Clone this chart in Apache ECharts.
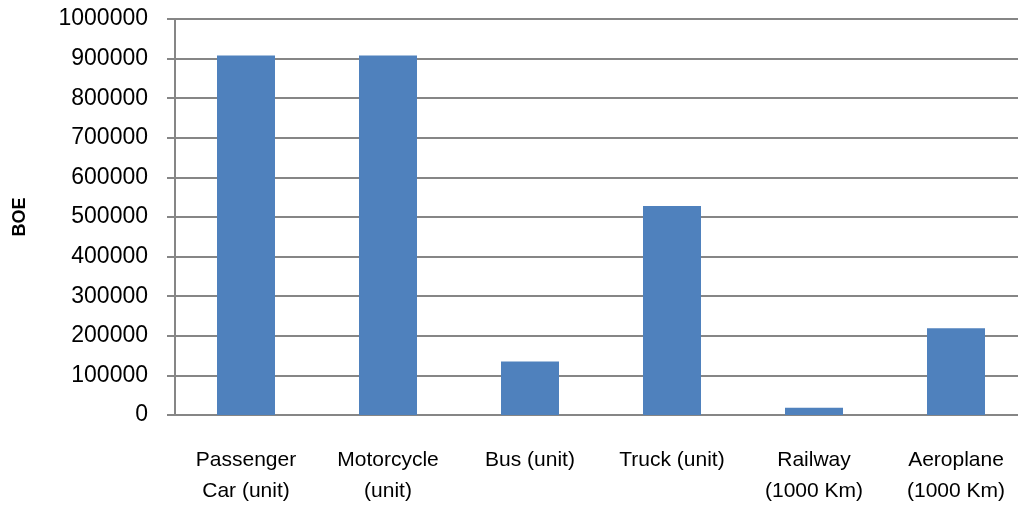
<!DOCTYPE html>
<html>
<head>
<meta charset="utf-8">
<script src="https://cdn.jsdelivr.net/npm/echarts@6/dist/echarts.min.js"></script>
<style>html,body{margin:0;padding:0;background:#fff}#c{width:1018px;height:506px}</style>
</head>
<body>
<div id="c"></div>
<script>
const categories = ['Passenger\nCar (unit)', 'Motorcycle\n(unit)', 'Bus (unit)', 'Truck (unit)', 'Railway\n(1000 Km)', 'Aeroplane\n(1000 Km)'];
const boeValues = [908000, 908000, 135000, 528000, 18000, 219000];
const yAxisName = 'BOE';

const chart = echarts.init(document.getElementById('c'));
chart.setOption({
  animation: false,
  grid: { left: 175, right: -9, top: 19, bottom: 91, containLabel: false, outerBoundsMode: 'none' },
  xAxis: {
    type: 'category',
    data: categories,
    axisLine: { lineStyle: { color: '#868686', width: 2 } },
    axisTick: { show: false },
    axisLabel: { color: '#000', fontFamily: 'Liberation Sans', fontSize: 21, lineHeight: 31, margin: 30, interval: 0 }
  },
  yAxis: {
    type: 'value',
    min: 0, max: 1000000, interval: 100000,
    name: yAxisName,
    nameLocation: 'middle',
    nameGap: 146,
    nameTextStyle: { color: '#000', fontFamily: 'Liberation Sans', fontWeight: 'bold', fontSize: 18 },
    axisLine: { show: true, lineStyle: { color: '#868686', width: 2 } },
    axisTick: { show: true, length: 8, lineStyle: { color: '#868686', width: 2 } },
    axisLabel: { color: '#000', fontFamily: 'Liberation Sans', fontSize: 23, margin: 27, formatter: v => String(v) },
    splitLine: { lineStyle: { color: '#868686', width: 2 } }
  },
  series: [{
    type: 'bar',
    data: boeValues,
    barWidth: 58,
    itemStyle: { color: '#4F81BD' }
  }]
});
</script>
</body>
</html>
